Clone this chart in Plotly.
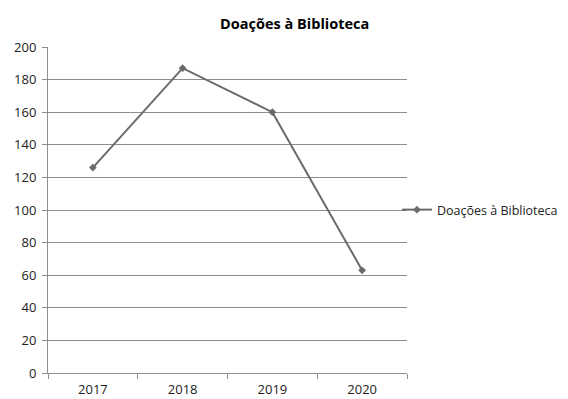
import plotly.graph_objects as go

years = ["2017", "2018", "2019", "2020"]
donations = [126, 187, 160, 63]
series_name = "Doações à Biblioteca"
title_text = "Doações à Biblioteca"

grid = "#8e8e8e"
line_col = "#6b6b6b"
font_fam = "Open Sans, Liberation Sans, Arial"

fig = go.Figure()
fig.add_trace(go.Scatter(
    x=years, y=donations, name=series_name, mode="lines+markers",
    line=dict(color=line_col, width=2),
    marker=dict(symbol="diamond", size=6, color=line_col),
    showlegend=True,
))

# page body has an 8px margin, so the figure is sized/offset accordingly
fig.update_layout(
    width=560, height=391,
    margin=dict(l=40, r=161, t=39, b=26, autoexpand=False),
    paper_bgcolor="white", plot_bgcolor="white",
    font=dict(family=font_fam, size=13, color="#222"),
    title=dict(text="<b>" + title_text + "</b>", x=0.512, xanchor="center",
               y=0.958, yanchor="middle",
               font=dict(family=font_fam, size=14.5, color="black")),
    legend=dict(x=0.972, xanchor="left", y=0.5, yanchor="middle",
                font=dict(family=font_fam, size=12.5, color="#222"), itemwidth=30,
                bgcolor="rgba(0,0,0,0)"),
    xaxis=dict(type="category", range=[-0.5, 3.5], tickson="boundaries",
               ticks="outside", automargin=False, ticklabelstandoff=4,
               ticklen=5, tickcolor=grid, showline=True, linecolor=grid,
               linewidth=1, showgrid=False, zeroline=False,
               tickfont=dict(size=13, color="#222")),
    yaxis=dict(range=[0, 200], dtick=20, ticks="outside", ticklen=5,
               automargin=False, ticklabelstandoff=3,
               tickcolor=grid, showline=True, linecolor=grid, linewidth=1,
               showgrid=True, gridcolor=grid, gridwidth=1, zeroline=False,
               tickfont=dict(size=13, color="#222")),
)

fig.write_html("out.html")
